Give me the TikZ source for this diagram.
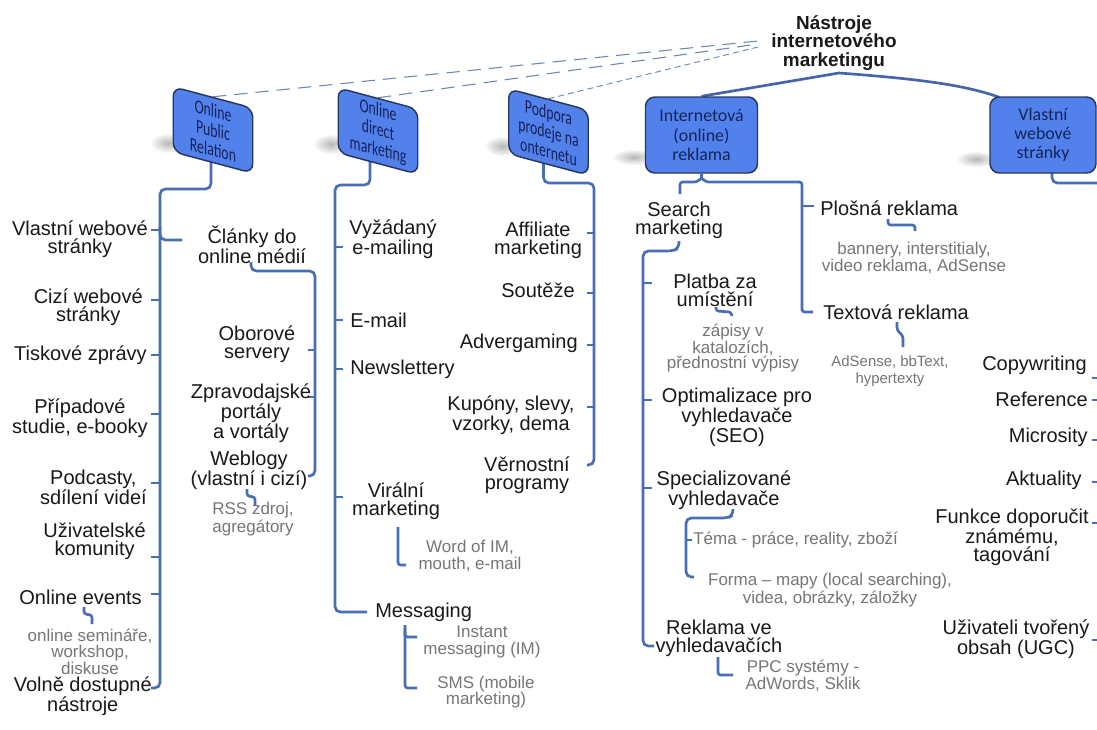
\documentclass[tikz,border=0pt]{standalone}
\usepackage{fontspec}
\setmainfont{Liberation Sans}
\newfontfamily\boxfont{Carlito}
\usetikzlibrary{backgrounds,fadings,calc}
\tikzfading[name=shfade, inner color=transparent!0, outer color=transparent!100]
\definecolor{boxfill}{RGB}{83,129,235}
\definecolor{boxline}{RGB}{40,55,95}
\definecolor{boxtext}{RGB}{20,35,90}
\definecolor{conn}{RGB}{74,110,180}
\definecolor{topline}{RGB}{70,100,170}
\definecolor{dashc}{RGB}{110,135,175}
\definecolor{txt}{RGB}{25,25,25}
\definecolor{grey}{RGB}{118,118,118}
\begin{document}
\begin{tikzpicture}[x=0.75pt,y=-0.75pt,
  it/.style={font=\fontsize{15}{13.3}\selectfont,text=txt,inner sep=0pt,align=center},
  gr/.style={font=\fontsize{12.75}{11.6}\selectfont,text=grey,inner sep=0pt,align=center},
  ttl/.style={font=\bfseries\fontsize{14.2}{13.9}\selectfont,text=txt,inner sep=0pt,align=center},
  bx/.style={draw=boxline,line width=1.1pt,fill=boxfill,rounded corners=7pt,inner sep=0pt,align=center,font=\boxfont\fontsize{13.4}{14.3}\selectfont,text=boxtext,minimum width=84pt,minimum height=57pt},
  sbx/.style={bx,transform shape,minimum height=48.75pt,font=\boxfont\fontsize{14.6}{14.8}\selectfont},
  cn/.style={draw=conn,line width=2pt,rounded corners=4pt},
  sm/.style={draw=conn,line width=2pt,rounded corners=2pt},
  tick/.style={draw=conn,line width=2pt},
  tl/.style={draw=topline,line width=2pt},
  dl/.style={draw=dashc,line width=0.8pt,dash pattern=on 10pt off 6pt},
  dlf/.style={draw=dashc,line width=0.7pt,dash pattern=on 4.5pt off 3pt},
  sh/.style={fill=black!70,opacity=0.4,path fading=shfade},
]
\useasboundingbox (0,0) rectangle (1097,729);
\begin{pgfonlayer}{background}
\fill[white] (0,0) rectangle (1097,729);
\end{pgfonlayer}

% ---------- title and boxes ----------
\node[ttl] (title) at (834,43) {Nástroje\\internetového\\marketingu};
\node[bx] (b4) at (701.5,135) {Internetová\\(online)\\reklama};
\node[bx,minimum width=79.5pt] (b5) at (1043,135) {Vlastní\\webové\\stránky};
\begin{scope}[shift={(213,130)},cm={0.71,-0.19,0,1,(0,0)}]
  \node[sbx] (b1) at (0,0) {Online\\Public\\Relation};
\end{scope}
\begin{scope}[shift={(378,131)},cm={0.71,-0.19,0,1,(0,0)}]
  \node[sbx] (b2) at (0,0) {Online\\direct\\marketing};
\end{scope}
\begin{scope}[shift={(548.5,132)},cm={0.71,-0.19,0,1,(0,0)}]
  \node[sbx] (b3) at (0,0) {Podpora\\prodeje na\\onternetu};
\end{scope}

% ---------- column 1 ----------
\node[it,anchor=east] (vw) at (148,239) {Vlastní webové\\stránky};
\node[it,anchor=east] (cw) at (143,307) {Cizí webové\\stránky};
\node[it,anchor=east] (tz) at (147,355) {Tiskové zprávy};
\node[it,anchor=east] (ps) at (148,418) {Případové\\studie, e-booky};
\node[it,anchor=east] (pc) at (147,487) {Podcasty,\\sdílení videí};
\node[it,anchor=east] (uk) at (146,541) {Uživatelské\\komunity};
\node[it,anchor=east] (oe) at (142,597) {Online events};
\node[gr,font=\fontsize{12.75}{10.2}\selectfont] (os) at (90,652) {online semináře,\\workshop,\\diskuse};
\node[it,anchor=east] (vd) at (152,696) {Volně dostupné\\nástroje};
\node[it] (cl) at (252,245) {Články do\\online médií};
\node[it] (ob) at (257,344) {Oborové\\servery};
\node[it] (zp) at (251,413) {Zpravodajské\\portály\\a vortály};
\node[it] (wb) at (249,470) {Weblogy\\(vlastní i cizí)};
\node[gr] (rs) at (253,519) {RSS zdroj,\\agregátory};

% ---------- column 2 ----------
\node[it] (vy) at (393,239) {Vyžádaný\\e-mailing};
\node[it,anchor=west] (em) at (350,320) {E-mail};
\node[it,anchor=west] (nl) at (350,369) {Newslettery};
\node[it] (vm) at (396,501) {Virální\\marketing};
\node[gr,font=\fontsize{12.75}{12.6}\selectfont] (wo) at (470,556) {Word of IM,\\mouth, e-mail};
\node[it,anchor=west] (ms) at (375,612) {Messaging};
\node[gr,font=\fontsize{12.75}{12.6}\selectfont] (im) at (482,642) {Instant\\messaging (IM)};
\node[gr,font=\fontsize{12.75}{12.6}\selectfont] (sms) at (486,692) {SMS (mobile\\marketing)};

% ---------- column 3 ----------
\node[it] (af) at (538,240) {Affiliate\\marketing};
\node[it,anchor=east] (so) at (575,290) {Soutěže};
\node[it,anchor=east] (ad) at (578,343) {Advergaming};
\node[it] (ku) at (511,415) {Kupóny, slevy,\\vzorky, dema};
\node[it] (ve) at (527,475) {Věrnostní\\programy};

% ---------- column 4 ----------
\node[it] (se) at (679,220) {Search\\marketing};
\node[it] (pl) at (715,290) {Platba za\\umístění};
\node[gr] (za) at (733,348) {zápisy v\\katalozích,\\přednostní výpisy};
\node[it] (op) at (737,417) {Optimalizace pro\\vyhledavače\\(SEO)};
\node[it] (sp) at (724,490) {Specializované\\vyhledavače};
\node[gr,anchor=west] (te) at (693,540) {Téma - práce, reality, zboží};
\node[gr] (fo) at (830,590) {Forma – mapy (local searching),\\videa, obrázky, záložky};
\node[it] (rv) at (719,638) {Reklama ve\\vyhledavačích};
\node[gr,font=\fontsize{12.75}{13}\selectfont] (ppc) at (803,676) {PPC systémy -\\AdWords, Sklik};
\node[it,anchor=west] (plo) at (820,208) {Plošná reklama};
\node[gr] (ba) at (914,258) {bannery, interstitialy,\\video reklama, AdSense};
\node[it,anchor=west] (tx) at (823,312) {Textová reklama};
\node[gr,font=\fontsize{11.2}{12.4}\selectfont] (as) at (890,371) {AdSense, bbText,\\hypertexty};

% ---------- column 5 ----------
\node[it,anchor=east] (cp) at (1087,365) {Copywriting};
\node[it,anchor=east] (rf) at (1088,399) {Reference};
\node[it,anchor=east] (mc) at (1088,437) {Microsity};
\node[it,anchor=east] (ak) at (1082,480) {Aktuality};
\node[it] (fd) at (1012,537) {Funkce doporučit\\známému,\\tagování};
\node[it] (ug) at (1016,639) {Uživateli tvořený\\obsah (UGC)};

% ---------- connectors (behind boxes) ----------
\coordinate (pk) at (839,73);
\coordinate (d1) at (758,41);
\coordinate (d2) at (758,44);
\coordinate (d3) at (758,47);
\begin{pgfonlayer}{background}
  % shadows
  \fill[sh] (168,143) ellipse [x radius=18, y radius=10];
  \fill[sh] (331,144) ellipse [x radius=18, y radius=10];
  \fill[sh] (502,146) ellipse [x radius=18, y radius=10];
  \fill[sh] (634,157) ellipse [x radius=22, y radius=8];
  \fill[sh] (976,159) ellipse [x radius=20, y radius=8];
  % title links
  \draw[tl] (pk) -- (b4.north);
  \draw[tl] (pk) .. controls (920,79) and (965,85) .. ($(b5.north west)+(10,1)$);
  \draw[dl] (b1.north) -- (d1);
  \draw[dl] (b2.north) -- (d2);
  \draw[dlf] (b3.north) -- (d3);
  % column 1
  \draw[cn] ($(b1.center)+(-2,0)$) |- (160,189) -- (160,688) -- (151,688);
  \foreach \y in {230,300,355,414,483,557,594} \draw[tick] (160,\y) -- (151,\y);
  \draw[cn] (160,226) |- (182,240);
  \draw[sm] (84,607) -- (84,614) -- (92,615) -- (92,624);
  \draw[cn] (251,262) |- (315,271) -- (315,476) -- (308,476);
  \foreach \y in {350,397} \draw[tick] (315,\y) -- (308,\y);
  \draw[sm] (247,489) -- (247,496) -- (255,497) -- (255,505);
  % column 2
  \draw[cn] ($(b2.center)+(-8,0)$) |- (335,185) -- (335,612) -- (367,612);
  \foreach \y in {247,320,369,497} \draw[tick] (335,\y) -- (343,\y);
  \draw[sm] (398,527) -- (398,565) -- (406,565);
  \draw[sm] (405,625) -- (405,688) -- (417,688);
  \draw[sm] (405,628) |- (417,637);
  % column 3
  \draw[cn] ($(b3.center)+(-5,0)$) |- (594,183) -- (594,465) -- (587,465);
  \foreach \y in {233,293,345,407} \draw[tick] (594,\y) -- (587,\y);
  % column 4
  \draw[tick] (b4.south) -- ($(b4.south)+(0,4)$);
  \draw[sm] (680,194) |- (697,182) -- ($(b4.south)+(0,4)$) -- (706,182) -| (802,312) -- (813,312);
  \draw[tick] (802,206) -- (814,206);
  \draw[cn] (679,241) -- (679,248) -- (673,251) -- (643,251) -- (643,646) -- (654,646);
  \foreach \y in {283,400,488} \draw[tick] (643,\y) -- (652,\y);
  \draw[sm] (716,307) -- (716,311) -- (731,312) -- (732,316);
  \draw[cn] (733,509) -- (733,515) -- (728,518) -- (686,518) -- (686,577) -- (694,577);
  \draw[tick] (686,540) -- (692,540);
  \draw[sm] (718,657) -- (718,675) -- (733,675);
  \draw[sm] (888,219) -- (888,225) -- (915,225) -- (915,231);
  \draw[sm] (897,322) -- (897,330) -- (903,336) -- (903,347);
  % column 5
  \draw[cn] ($(b5.center)+(9,0)$) |- (1102,183) -- (1102,640);
  \foreach \y in {378,400,440,482,523,640} \draw[tick] (1102,\y) -- (1092,\y);
\end{pgfonlayer}
\end{tikzpicture}
\end{document}
